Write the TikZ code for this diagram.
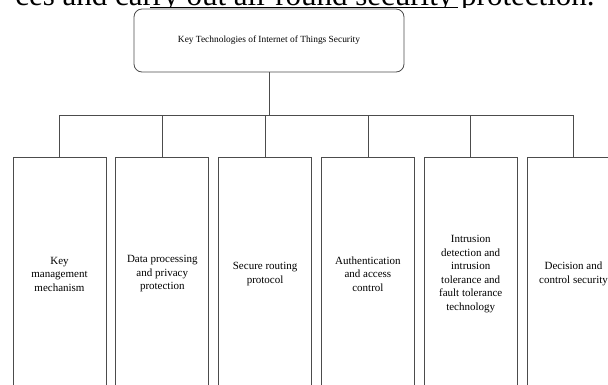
\documentclass[tikz,border=0pt]{standalone}
\usepackage{fontspec}
\setmainfont{Liberation Serif}
\usetikzlibrary{positioning}

\begin{document}
\begin{tikzpicture}[
            x = 1pt, y = -1pt, % one unit per pixel, downwards
            node distance = 102.8pt, % centre to centre of the boxes
            line width = 0.8pt, % line style
            draw = black!70
        ]

        \tikzstyle{root}=[
            draw = black!70,
            rounded corners = 8pt,
            minimum width = 270pt,
            minimum height = 63pt,
            font = \fontsize{9.4}{11}\selectfont
        ]
        \tikzstyle{tech}=[
            draw = black!70,
            minimum width = 93pt,
            minimum height = 234pt,
            inner sep = 0pt,
            align = center,
            font = \fontsize{11}{13.5}\selectfont
        ]

        \useasboundingbox (0,0) rectangle (608,385);
        \clip (0,0) rectangle (608,385);

        % cut off line of the page text above the figure
        \begin{scope}
            \clip (0,0) rectangle (608,8);
            \node[anchor = base east, inner sep = 0pt, font = \fontsize{31}{36}\selectfont] (prose) at (595,5.5) {ces and carry out all-round security protection.};
        \end{scope}
        \draw[black, line width = 1pt] (150,7.5) -- (458,7.5);

        \node[root] (iot) at (269,40.5) {Key Technologies of Internet of Things Security};

        \node[tech] (key) at (59.5,274) {Key\\management\\mechanism};
        \node[tech] (data) [right of=key] {Data processing\\and privacy\\protection};
        \node[tech] (route) [right of=data] {Secure routing\\protocol};
        \node[tech] (auth) [right of=route] {Authentication\\and access\\control};
        \node[tech] (ids) [right of=auth] {Intrusion\\detection and\\intrusion\\tolerance and\\fault tolerance\\technology};
        \node[tech] (ctrl) [right of=ids] {Decision and\\control security};

        \coordinate (bus) at (269,115);
        \draw (iot) -- (bus);
        \foreach \b in {key, data, route, auth, ids, ctrl}
            \draw (bus) -| (\b);

  \end{tikzpicture}
\end{document}
